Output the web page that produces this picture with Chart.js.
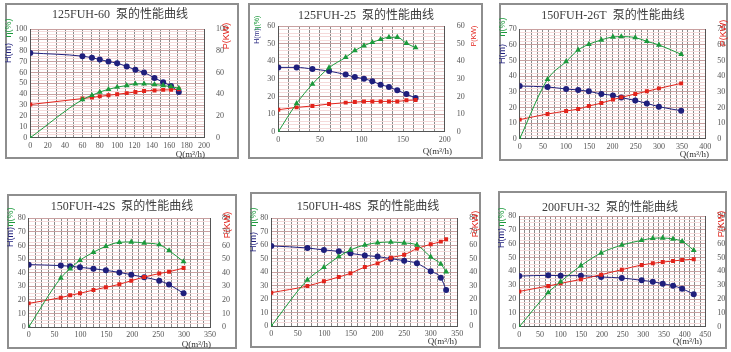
<!DOCTYPE html>
<html>
<head>
<meta charset="utf-8">
<title>泵的性能曲线</title>
<script src="https://cdn.jsdelivr.net/npm/chart.js@4.4.1/dist/chart.umd.min.js"></script>
<style>
  body { margin: 0; background: #fff; width: 731px; height: 352px; position: relative; overflow: hidden; }
  .frame { position: absolute; box-sizing: border-box; border: 2px solid #8e8e8e; }
  canvas { position: absolute; }
</style>
</head>
<body>
<script>
// 125FUH-60
var flow1  = [0, 60, 71, 80, 90, 100, 111, 121, 131, 143, 153, 162, 171];
var head1  = [78, 75, 73.5, 72, 70, 68.5, 65.5, 62.5, 60, 55, 51, 47.5, 42];
var eff1   = [0, 35, 39, 42, 44.5, 46.5, 48, 49.5, 49.5, 49, 48, 47, 45.5];
var power1 = [30.5, 36, 37, 38, 39, 40, 41, 42, 43, 43.5, 44, 44, 44.5];

// 125FUH-25
var flow2  = [0, 22, 41, 61, 81, 92, 103, 113, 123, 133, 143, 154, 165];
var head2  = [36.5, 36.5, 35.6, 34.4, 32.4, 31, 30.1, 28.6, 26.7, 25.4, 23.5, 21.4, 19.1];
var eff2   = [0, 16, 27, 36.3, 42.2, 46, 48.8, 50.7, 52.4, 53.6, 53.6, 50.2, 47.7];
var power2 = [12.5, 13.8, 14.6, 15.7, 16.5, 16.8, 17.1, 17.2, 17.2, 17.2, 17.2, 17.8, 18];

// 150FUH-26T
var flow3  = [0, 60, 100, 126, 149, 176, 201, 219, 249, 274, 300, 348];
var head3  = [33.7, 33.1, 31.8, 31.2, 30.3, 28.6, 27.7, 26.3, 24.5, 22.6, 20.5, 17.9];
var eff3   = [0, 38, 49.3, 56.8, 60.4, 63.2, 65.1, 65.3, 64.7, 62.3, 60, 54];
var power3 = [12.2, 15.8, 17.7, 19, 20.9, 22.8, 25, 26.5, 28.6, 30.3, 32.2, 35.4];

// 150FUH-42S
var flow4  = [0, 62, 80, 99, 125, 149, 175, 198, 223, 252, 271, 299];
var head4  = [45.9, 45.2, 44.7, 43.9, 42.9, 41.7, 40.2, 38.5, 36.6, 34.1, 31.2, 24.8];
var eff4   = [0, 36.1, 42.9, 49.1, 55, 59.4, 62.3, 62.6, 61.8, 60.6, 56.2, 48.1];
var power4 = [17.4, 21.6, 23.3, 24.8, 27.2, 29.2, 31.4, 34.1, 36.8, 39.3, 40.7, 43.4];

// 150FUH-48S
var flow5  = [0, 68, 99, 127, 149, 176, 200, 225, 250, 274, 300, 319, 329];
var head5  = [59.3, 57.8, 56.3, 55.3, 53.8, 52.3, 51.4, 49.9, 48.4, 46.4, 40.5, 35.8, 26.7];
var eff5   = [0, 34.1, 43.5, 51.4, 56.3, 60, 61.7, 62.2, 61.5, 60, 51.1, 45.9, 40.2];
var power5 = [24.7, 29.6, 33.1, 36.3, 39, 43.7, 46.4, 50.6, 52.8, 57.3, 60.5, 62.5, 64.2];

// 200FUH-32
var flow6  = [0, 70, 100, 149, 198, 248, 296, 323, 347, 372, 394, 422];
var head6  = [36.6, 37.1, 36.9, 36.9, 35.9, 35.2, 33.5, 32.5, 31.1, 29.6, 27.5, 23.4];
var eff6   = [0, 24.6, 32.5, 44.1, 53.3, 59, 62.4, 63.9, 64.1, 63.4, 61.7, 55.2];
var power6 = [25.5, 29.4, 31.3, 34.2, 37.6, 41.2, 44.6, 45.8, 46.7, 47.5, 48.2, 48.7];

// axis ranges: [max, label step, grid step]
var pumps = [
  { name: '125FUH-60',  flow: flow1, head: head1, eff: eff1, power: power1,
    xAxis: [200, 20, 10],   yAxis: [100, 10, 2.5], pAxis: [100, 20] },
  { name: '125FUH-25',  flow: flow2, head: head2, eff: eff2, power: power2,
    xAxis: [200, 50, 12.5], yAxis: [60, 10, 2],    pAxis: [60, 10] },
  { name: '150FUH-26T', flow: flow3, head: head3, eff: eff3, power: power3,
    xAxis: [400, 50, 12.5], yAxis: [70, 10, 2],    pAxis: [70, 10] },
  { name: '150FUH-42S', flow: flow4, head: head4, eff: eff4, power: power4,
    xAxis: [350, 50, 12.5], yAxis: [80, 10, 2.5],  pAxis: [80, 10] },
  { name: '150FUH-48S', flow: flow5, head: head5, eff: eff5, power: power5,
    xAxis: [350, 50, 12.5], yAxis: [80, 10, 2.5],  pAxis: [80, 10] },
  { name: '200FUH-32',  flow: flow6, head: head6, eff: eff6, power: power6,
    xAxis: [450, 50, 12.5], yAxis: [80, 10, 2.5],  pAxis: [80, 10] }
];

// page placement of each panel: frame box, plot box, text anchors
var layout = [
  { frame: [5, 3, 234, 156],   plot: [30.3, 29, 204, 137.7],    title: [120, 15],  hm: [9, 53],   eta: [9, 28],   pkw: [227, 36],  q: [205, 155], axisFont: 9 },
  { frame: [248, 3, 235, 156], plot: [278.3, 26, 444.7, 131.7], title: [366, 16],  hm: [257, 36], eta: [257, 23], pkw: [474, 36],  q: [452, 152], axisFont: 7 },
  { frame: [499, 3, 229, 158], plot: [519.7, 29.3, 705.3, 138.7], title: [613, 16], hm: [503, 54], eta: [503, 27], pkw: [724, 33], q: [709, 155], axisFont: 9 },
  { frame: [7, 194, 230, 155], plot: [28.7, 218.3, 210, 327],   title: [122, 207], hm: [11, 237], eta: [11, 217], pkw: [228, 225], q: [211, 345], axisFont: 9 },
  { frame: [250, 192, 231, 156], plot: [271.3, 218, 457.3, 326], title: [368, 207], hm: [254, 242], eta: [254, 217], pkw: [476, 224], q: [457, 342], axisFont: 9 },
  { frame: [498, 191, 229, 158], plot: [519.3, 216, 705.3, 326.7], title: [610, 208], hm: [502, 238], eta: [502, 217], pkw: [722, 224], q: [702, 342], axisFont: 9 }
];

var BLUE = '#1f1f7c', GREEN = '#1b9a3c', RED = '#e2231b';
var TICK_FONT = { family: "'Liberation Serif', serif", size: 8 };

function isMultiple(v, step) {
  return Math.abs(v / step - Math.round(v / step)) < 1e-6;
}

function points(xs, ys) {
  return xs.map(function (x, i) { return { x: x, y: ys[i] }; });
}

function vText(ctx, text, x, y, color) {
  ctx.save();
  ctx.translate(x, y);
  ctx.rotate(-Math.PI / 2);
  ctx.fillStyle = color;
  ctx.fillText(text, 0, 0);
  ctx.restore();
}

function textPlugin(p, l) {
  return {
    id: 'pumpText',
    afterDraw: function (chart) {
      var ctx = chart.ctx, fx = l.frame[0], fy = l.frame[1];
      ctx.save();
      ctx.textAlign = 'center';
      ctx.textBaseline = 'middle';
      ctx.fillStyle = '#3c3c3c';
      ctx.font = "12px 'Liberation Serif', 'Noto Sans CJK SC', serif";
      ctx.fillText(p.name + '  泵的性能曲线', l.title[0] - fx, l.title[1] - fy);

      ctx.font = l.axisFont + "px 'Liberation Sans', sans-serif";
      vText(ctx, 'H(m)', l.hm[0] - fx, l.hm[1] - fy, BLUE);
      vText(ctx, 'η(%)', l.eta[0] - fx, l.eta[1] - fy, GREEN);
      vText(ctx, 'P(KW)', l.pkw[0] - fx, l.pkw[1] - fy, RED);

      ctx.textAlign = 'right';
      ctx.fillStyle = '#333';
      ctx.font = "9px 'Liberation Serif', serif";
      ctx.fillText('Q(m³/h)', l.q[0] - fx, l.q[1] - fy);
      ctx.restore();
    }
  };
}

function makeChart(p, l) {
  var fx = l.frame[0], fy = l.frame[1], fw = l.frame[2], fh = l.frame[3];
  var leftW = l.plot[0] - fx, topPad = l.plot[1] - fy;
  var rightW = fx + fw - l.plot[2], bottomH = fy + fh - l.plot[3];

  var box = document.createElement('div');
  box.className = 'frame';
  box.style.left = fx + 'px'; box.style.top = fy + 'px';
  box.style.width = fw + 'px'; box.style.height = fh + 'px';
  document.body.appendChild(box);

  var cv = document.createElement('canvas');
  cv.width = fw; cv.height = fh;
  cv.style.left = fx + 'px'; cv.style.top = fy + 'px';
  document.body.appendChild(cv);

  var xMax = p.xAxis[0], xLab = p.xAxis[1], xGrid = p.xAxis[2];
  var yMax = p.yAxis[0], yLab = p.yAxis[1], yGrid = p.yAxis[2];

  new Chart(cv, {
    type: 'line',
    data: {
      datasets: [
        { data: points(p.flow, p.eff), yAxisID: 'y', borderColor: GREEN, backgroundColor: GREEN,
          pointStyle: 'triangle', pointRadius: 3.4, pointBorderWidth: 0, borderWidth: 1,
          cubicInterpolationMode: 'monotone' },
        { data: points(p.flow, p.power), yAxisID: 'p', borderColor: RED, backgroundColor: RED,
          pointStyle: 'rect', pointRadius: 2.8, pointBorderWidth: 0, borderWidth: 1,
          cubicInterpolationMode: 'monotone' },
        { data: points(p.flow, p.head), yAxisID: 'y', borderColor: BLUE, backgroundColor: BLUE,
          pointStyle: 'circle', pointRadius: 3, pointBorderWidth: 0, borderWidth: 1,
          cubicInterpolationMode: 'monotone' }
      ]
    },
    options: {
      responsive: false,
      animation: false,
      layout: { padding: { top: topPad, left: 0, right: 0, bottom: 0 } },
      plugins: { legend: { display: false }, tooltip: { enabled: false } },
      scales: {
        x: {
          type: 'linear', min: 0, max: xMax,
          afterFit: function (s) { s.height = bottomH; },
          border: { color: '#555' },
          grid: { color: '#8a8a8a', drawTicks: false },
          ticks: {
            stepSize: xGrid, autoSkip: false, maxRotation: 0, padding: 3,
            font: TICK_FONT, color: '#555',
            callback: function (v) { return isMultiple(v, xLab) ? v : ''; }
          }
        },
        y: {
          position: 'left', min: 0, max: yMax,
          afterFit: function (s) { s.width = leftW; },
          border: { color: '#555' },
          grid: {
            drawTicks: false,
            color: function (c) { return isMultiple(c.tick.value, yLab) ? '#c9a0a0' : '#f5dada'; }
          },
          ticks: {
            stepSize: yGrid, autoSkip: false, padding: 3,
            font: TICK_FONT, color: '#555',
            callback: function (v) { return isMultiple(v, yLab) ? v : ''; }
          }
        },
        p: {
          position: 'right', min: 0, max: p.pAxis[0],
          afterFit: function (s) { s.width = rightW; },
          border: { color: '#555' },
          grid: { display: false },
          ticks: { stepSize: p.pAxis[1], padding: 4, font: TICK_FONT, color: '#555' }
        }
      }
    },
    plugins: [textPlugin(p, l)]
  });
}

pumps.forEach(function (p, i) { makeChart(p, layout[i]); });
</script>
</body>
</html>
